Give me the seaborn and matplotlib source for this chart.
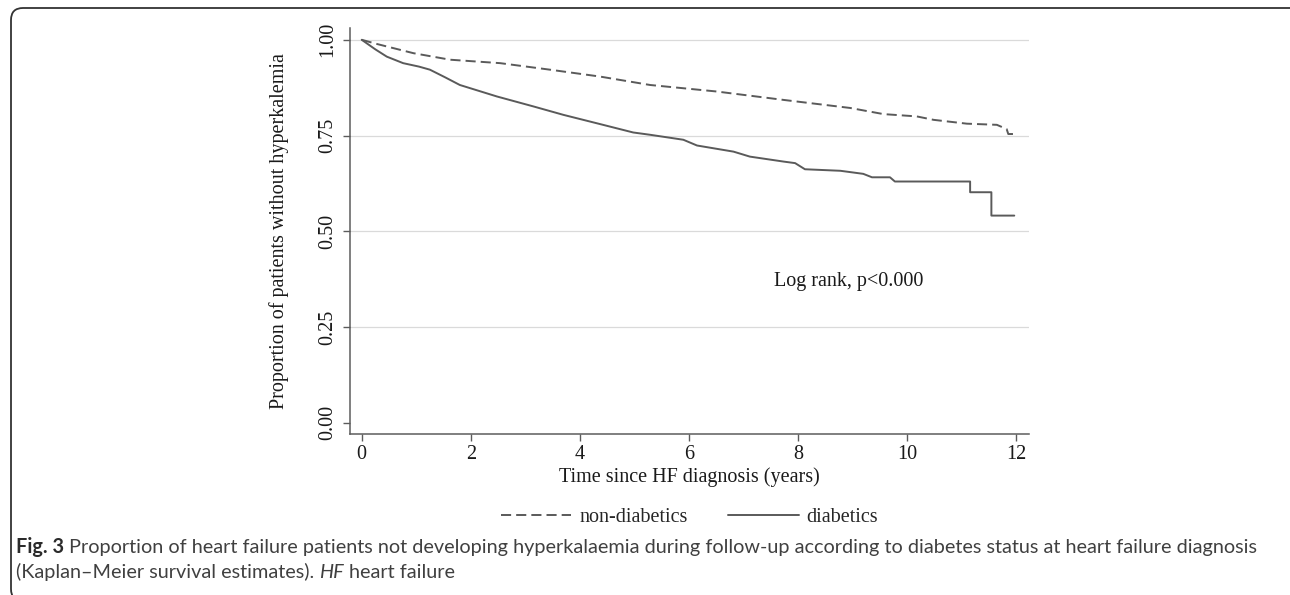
import numpy as np
import pandas as pd
import matplotlib
matplotlib.use("Agg")
import matplotlib.pyplot as plt
import seaborn as sns
from matplotlib.patches import FancyBboxPatch
from matplotlib.lines import Line2D
from matplotlib import font_manager

# ---------------- data ----------------
groups = ["non-diabetics", "diabetics"]

nondiab_time = [0.00, 0.28, 0.95, 1.62, 2.54, 3.45, 4.37, 5.29, 6.51, 7.74,
                8.96, 9.57, 10.18, 10.49, 11.10, 11.65, 11.83, 11.86, 12.02]
nondiab_surv = [1.000, 0.989, 0.965, 0.948, 0.939, 0.922, 0.904, 0.882, 0.865, 0.843,
                0.822, 0.806, 0.800, 0.791, 0.781, 0.778, 0.767, 0.754, 0.754]

diab_time = [0.00, 0.25, 0.46, 0.76, 1.05, 1.25, 1.53, 1.80, 2.48, 3.15, 3.70,
             4.37, 4.98, 5.29, 5.90, 6.15, 6.82, 7.12, 7.74, 7.95, 8.13,
             8.78, 9.20, 9.36, 9.69, 9.78, 11.16, 11.16, 11.55, 11.55, 11.97]
diab_surv = [1.000, 0.975, 0.956, 0.939, 0.930, 0.922, 0.902, 0.882, 0.852, 0.826, 0.804,
             0.780, 0.758, 0.752, 0.739, 0.724, 0.708, 0.695, 0.682, 0.678, 0.662,
             0.658, 0.650, 0.641, 0.641, 0.630, 0.630, 0.602, 0.602, 0.541, 0.541]

x_ticks = [0, 2, 4, 6, 8, 10, 12]
y_ticks = [0.00, 0.25, 0.50, 0.75, 1.00]
y_tick_labels = ["0.00", "0.25", "0.50", "0.75", "1.00"]
grid_levels = [0.25, 0.50, 0.75, 1.00]

x_label = "Time since HF diagnosis (years)"
y_label = "Proportion of patients without hyperkalemia"
annotation = "Log rank, p<0.000"
annotation_pos = (7.56, 0.368)

caption_bold = "Fig. 3"
caption_line1 = ("Proportion of heart failure patients not developing hyperkalaemia during "
                 "follow-up according to diabetes status at heart failure diagnosis")
caption_line2_a = "(Kaplan\u2013Meier survival estimates)."
caption_line2_it = "HF"
caption_line2_b = "heart failure"

# ---------------- style ----------------
sns.set_theme(style="white")
plt.rcParams["font.family"] = ["Liberation Serif", "DejaVu Serif"]

LINE_COL = "#5a5a5a"
AX_COL = "#5c5c5c"
FS = 14.5

df = pd.concat([
    pd.DataFrame({"group": groups[0], "time": nondiab_time, "surv": nondiab_surv}),
    pd.DataFrame({"group": groups[1], "time": diab_time, "surv": diab_surv}),
], ignore_index=True)

W, H = 1290, 595
fig = plt.figure(figsize=(W / 100, H / 100), dpi=100)
ax_l, ax_r, ax_t, ax_b = 350, 1029, 28.3, 434.3
ax = fig.add_axes([ax_l / W, 1 - ax_b / H, (ax_r - ax_l) / W, (ax_b - ax_t) / H])

for lvl in grid_levels:
    ax.axhline(lvl, color="#dadada", lw=0.9, zorder=0)

dash_map = {"non-diabetics": (5.2, 2.6), "diabetics": ""}
sns.lineplot(data=df, x="time", y="surv", hue="group", style="group",
             hue_order=groups, style_order=groups,
             palette={g: LINE_COL for g in groups}, dashes=dash_map,
             estimator=None, sort=False, lw=1.4, legend=False, ax=ax)

ax.set_xlim(-0.215, 12.24)
ax.set_ylim(-0.03, 1.03)
ax.set_xticks(x_ticks)
ax.set_xticklabels([str(t) for t in x_ticks])
ax.set_yticks(y_ticks)
ax.set_yticklabels(y_tick_labels, rotation=90, va="center")

for s in ["top", "right"]:
    ax.spines[s].set_visible(False)
for s in ["left", "bottom"]:
    ax.spines[s].set_color(AX_COL)
    ax.spines[s].set_linewidth(1.1)

ax.tick_params(axis="both", direction="out", length=5, width=1.0, color=AX_COL,
               labelsize=FS, labelcolor="#1a1a1a", left=True, bottom=True)
ax.tick_params(axis="x", pad=3)
ax.tick_params(axis="y", pad=4)

ax.set_xlabel(x_label, fontsize=FS, color="#1a1a1a", labelpad=2)
ax.set_ylabel(y_label, fontsize=FS, color="#1a1a1a")
ax.yaxis.set_label_coords(-0.09, 0.5)
ax.grid(False)

ax.text(annotation_pos[0], annotation_pos[1], annotation, fontsize=FS,
        ha="left", va="center", color="#1a1a1a")

# legend
handles = [Line2D([], [], color=LINE_COL, lw=1.4, linestyle=(0, (5.2, 2.6))),
           Line2D([], [], color=LINE_COL, lw=1.4, linestyle="-")]
fig.legend(handles, groups, loc="center", bbox_to_anchor=(689.5 / W, 1 - 517 / H),
           ncol=2, frameon=False, handlelength=3.5, handletextpad=0.4,
           columnspacing=2.0, fontsize=FS)

# frame around the figure
frame = FancyBboxPatch((11, -6), 1300, H - 8 + 6,
                       boxstyle="round,pad=0,rounding_size=12",
                       transform=None, fill=False, ec="#333333", lw=1.3)
fig.add_artist(frame)

# caption
def pick(fams):
    for f in fams:
        try:
            font_manager.findfont(font_manager.FontProperties(family=[f]),
                                  fallback_to_default=False)
            return f
        except Exception:
            pass
    return "DejaVu Sans"

cap_font = pick(["Liberation Sans Narrow", "Lato", "Open Sans"])
fig.canvas.draw()
r = fig.canvas.get_renderer()

def put(x_px, y_px, s, size, **kw):
    t = fig.text(x_px / W, 1 - y_px / H, s, va="center", ha="left",
                 fontsize=size, family=[cap_font, "DejaVu Sans"], **kw)
    bb = t.get_window_extent(renderer=r)
    return t, bb.x1

probe, _ = put(16, 547, caption_bold + " " + caption_line1, 14)
w = probe.get_window_extent(renderer=r).width
probe.remove()
cs = min(15.0, 14 * (1244 / w))
gap = cs * 0.26 * 100 / 72

_, x1 = put(16, 547, caption_bold, cs, weight="bold", color="#2b2b2b")
put(x1 + gap, 547, caption_line1, cs, color="#404040")
_, x2 = put(16, 572, caption_line2_a, cs, color="#404040")
_, x3 = put(x2 + gap, 572, caption_line2_it, cs, style="italic", color="#404040")
put(x3 + gap, 572, caption_line2_b, cs, color="#404040")

fig.savefig("out.png", dpi=100)
